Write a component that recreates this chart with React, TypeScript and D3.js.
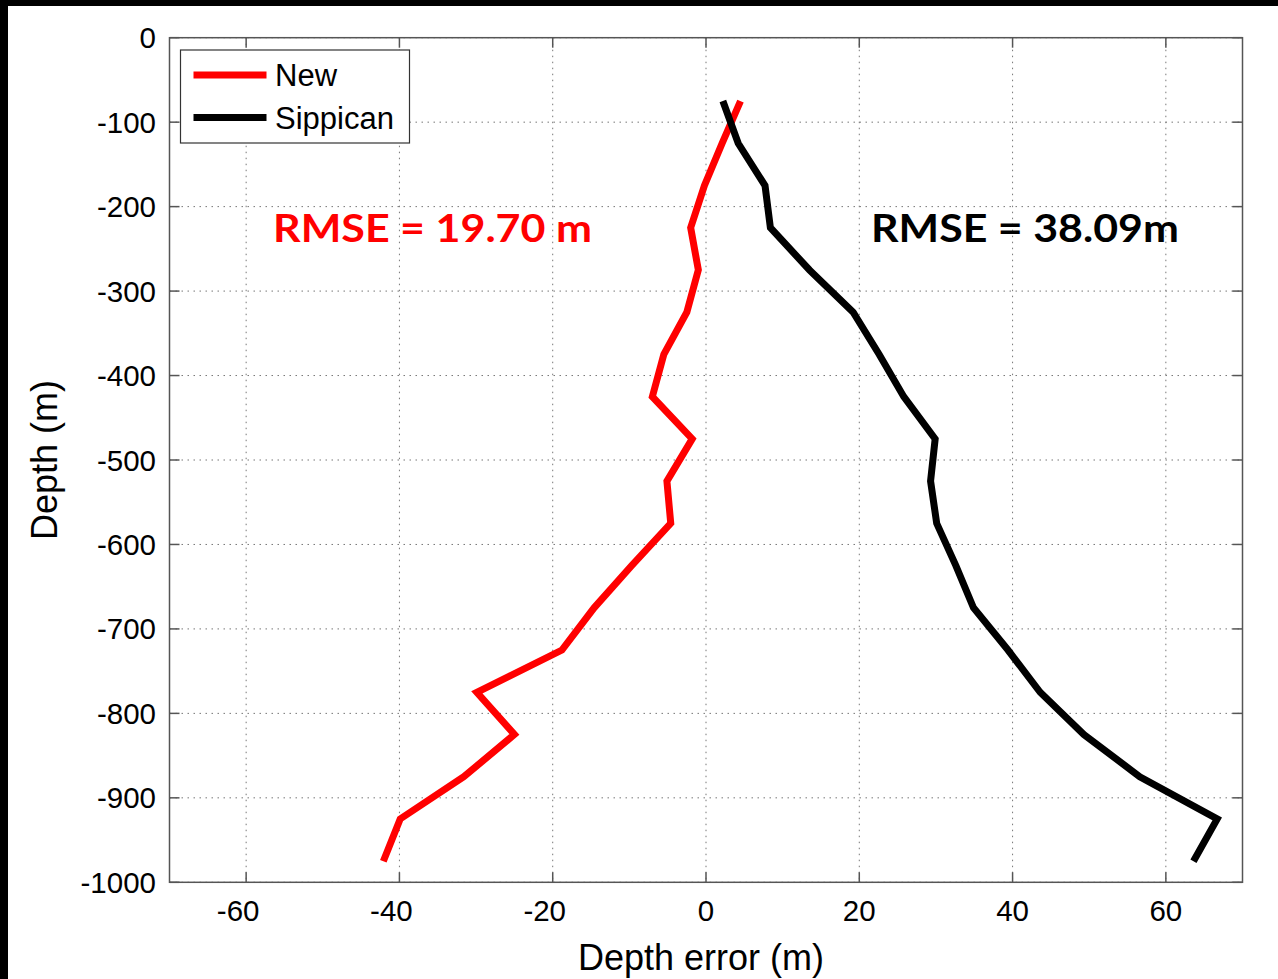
import React from "react";
import * as d3 from "d3";

const depths = [-75, -125, -175, -225, -275, -325, -375, -425, -475, -525, -575, -625, -675, -725, -775, -825, -875, -925, -975];
const newErr = [4.5, 2.1, -0.2, -2.0, -1.0, -2.5, -5.5, -7.0, -1.8, -5.1, -4.6, -9.7, -14.6, -18.8, -29.9, -25.0, -31.6, -39.9, -42.1];
const sippicanErr = [2.2, 4.2, 7.7, 8.4, 13.5, 19.2, 22.6, 25.8, 29.9, 29.3, 30.1, 32.6, 34.9, 39.4, 43.6, 49.3, 56.6, 66.7, 63.6];
const xTicks = [-60, -40, -20, 0, 20, 40, 60];
const yTicks = [0, -100, -200, -300, -400, -500, -600, -700, -800, -900, -1000];
const seriesNames = ["New", "Sippican"];
const seriesColors = ["#ff0000", "#000000"];
const rmseLabels = ["RMSE = 19.70 m", "RMSE = 38.09m"];

const W = 1278;
const H = 979;
const L = 169.5, R = 1242.5, T = 37.7, B = 882.3;

export default function App() {
  const x = d3.scaleLinear().domain([-70, 70]).range([L, R]);
  const y = d3.scaleLinear().domain([0, -1000]).range([T, B]);
  const line = d3.line<[number, number]>().x((d) => x(d[0])).y((d) => y(d[1]));
  const series = [newErr, sippicanErr].map((vals) => vals.map((v, i) => [v, depths[i]] as [number, number]));
  const axisColor = "#555";
  const tickFont = "'Liberation Sans', Arial, Helvetica, sans-serif";
  return (
    <svg width={W} height={H} style={{ position: "absolute", left: 0, top: 0, background: "#fff" }}>
      <rect x={0} y={0} width={W} height={H} fill="#fff" />
      {/* grid */}
      {xTicks.map((t) => (
        <line key={"gx" + t} x1={x(t)} x2={x(t)} y1={T} y2={B} stroke="#777" strokeWidth={1} strokeDasharray="1.5,4.5" />
      ))}
      {yTicks.map((t) => (
        <line key={"gy" + t} x1={L} x2={R} y1={y(t)} y2={y(t)} stroke="#777" strokeWidth={1} strokeDasharray="1.5,4.5" />
      ))}
      {/* ticks inward */}
      {xTicks.map((t) => (
        <g key={"tx" + t}>
          <line x1={x(t)} x2={x(t)} y1={B} y2={B - 10} stroke={axisColor} strokeWidth={1.5} />
          <line x1={x(t)} x2={x(t)} y1={T} y2={T + 10} stroke={axisColor} strokeWidth={1.5} />
          <text x={x(t)} dx={t < 0 ? -8 : 0} y={921} textAnchor="middle" fontFamily={tickFont} fontSize={29.5} fill="#000">
            {t}
          </text>
        </g>
      ))}
      {yTicks.map((t) => (
        <g key={"ty" + t}>
          <line x1={L} x2={L + 10} y1={y(t)} y2={y(t)} stroke={axisColor} strokeWidth={1.5} />
          <line x1={R} x2={R - 10} y1={y(t)} y2={y(t)} stroke={axisColor} strokeWidth={1.5} />
          <text x={156} y={y(t) + 10.5} textAnchor="end" fontFamily={tickFont} fontSize={29.5} fill="#000">
            {t}
          </text>
        </g>
      ))}
      {/* data lines */}
      {series.map((s, i) => (
        <path key={"s" + i} d={line(s) || ""} fill="none" stroke={seriesColors[i]} strokeWidth={7} strokeLinejoin="miter" strokeLinecap="butt" />
      ))}
      {/* axes box */}
      <rect x={L} y={T} width={R - L} height={B - T} fill="none" stroke={axisColor} strokeWidth={1.5} />
      {/* legend */}
      <rect x={180.5} y={50} width={229} height={93} fill="#fff" stroke="#333" strokeWidth={1.2} />
      {seriesNames.map((n, i) => (
        <g key={"lg" + i}>
          <line x1={193.5} x2={266.5} y1={75 + i * 42.5} y2={75 + i * 42.5} stroke={seriesColors[i]} strokeWidth={7} />
          <text x={275} y={86 + i * 42.5} fontFamily={tickFont} fontSize={31} fill="#000">
            {n}
          </text>
        </g>
      ))}
      {/* RMSE annotations */}
      <text x={273} y={242} textLength={319} lengthAdjust="spacingAndGlyphs" fontFamily="Lato, 'Open Sans', sans-serif" fontWeight="bold" fontSize={39} fill="#ff0000">
        {rmseLabels[0]}
      </text>
      <text x={871} y={242} textLength={308} lengthAdjust="spacingAndGlyphs" fontFamily="Lato, 'Open Sans', sans-serif" fontWeight="bold" fontSize={39} fill="#000">
        {rmseLabels[1]}
      </text>
      {/* axis labels */}
      <text x={701} y={970} textAnchor="middle" fontFamily={tickFont} fontSize={36} fill="#000">
        Depth error (m)
      </text>
      <text transform={`translate(57, ${(T + B) / 2}) rotate(-90)`} textAnchor="middle" fontFamily={tickFont} fontSize={36} fill="#000">
        Depth (m)
      </text>
      {/* black frame strips */}
      <rect x={0} y={0} width={W} height={6} fill="#000" />
      <rect x={0} y={0} width={8} height={H} fill="#000" />
    </svg>
  );
}
